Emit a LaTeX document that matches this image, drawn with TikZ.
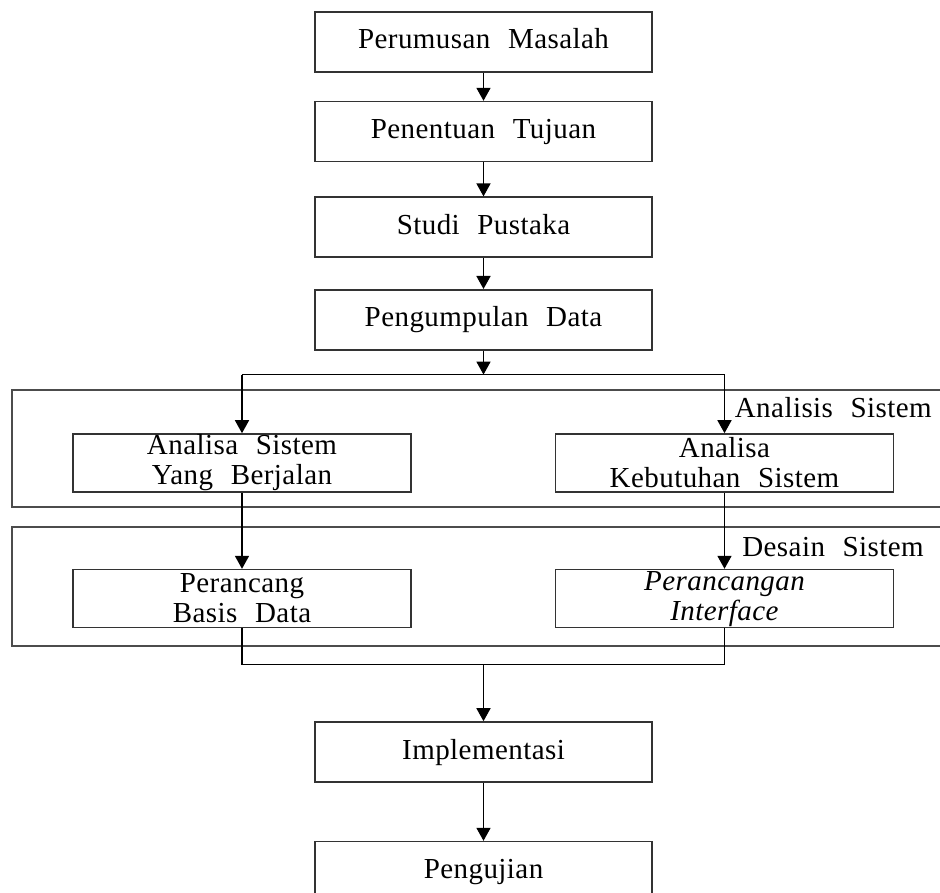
\documentclass[tikz,border=0pt]{standalone}
\usepackage{fontspec}
\setmainfont{Liberation Serif}[LetterSpace=1.5,WordSpace=2.3]
\usetikzlibrary{positioning,arrows.meta}

\tikzset{
  stepbox/.style={draw=black!80, line width=1.6pt, minimum width=337pt,
    minimum height=60pt, inner sep=0pt, text height=20pt, text depth=6pt},
  sidebox/.style={draw=black!80, line width=1.6pt, minimum width=338pt,
    minimum height=58pt, inner sep=0pt, align=center},
  groupline/.style={draw=black!70, line width=1.6pt},
  flow/.style={line width=1.6pt, -{Triangle[width=14pt,length=13pt]}},
  link/.style={line width=1.6pt},
}

\begin{document}
\begin{tikzpicture}[x=1pt, y=-1pt, font=\fontsize{29}{30}\selectfont]
  \useasboundingbox (0,0) rectangle (940,893);
  \clip (0,0) rectangle (940,893);

  % kelompok tahap
  \draw[groupline] (940,390) -| (12,507) -- (940,507);
  \draw[groupline] (940,527) -| (12,646) -- (940,646);
  \node[anchor=base east, inner sep=0pt] (lblanalisis) at (932,417) {Analisis Sistem};
  \node[anchor=base east, inner sep=0pt] (lbldesain) at (924,556) {Desain Sistem};

  % alur utama
  \node[stepbox] (s1) at (483.5,42) {Perumusan Masalah};
  \node[stepbox, below=28pt of s1] (s2) {Penentuan Tujuan};
  \node[stepbox, below=34pt of s2] (s3) {Studi Pustaka};
  \node[stepbox, below=31pt of s3] (s4) {Pengumpulan Data};

  \node[sidebox] (a1) at (242,463) {Analisa Sistem\\Yang Berjalan};
  \node[sidebox] (a2) at (724.5,463) {Analisa\\Kebutuhan Sistem};
  \node[sidebox, below=76pt of a1] (d1) {Perancang\\Basis Data};
  \node[sidebox, below=76pt of a2, font=\fontsize{29}{30}\selectfont\itshape] (d2) {Perancangan\\Interface};

  \node[stepbox] (s5) at (483.5,752) {Implementasi};
  \node[stepbox, below=58pt of s5] (s6) {Pengujian};

  % titik cabang
  \coordinate[below=24pt of s4.south] (split);
  \coordinate (splitL) at (split -| a1);
  \coordinate (splitR) at (split -| a2);
  \coordinate[below=36pt of d1.south] (mergeL);
  \coordinate (mergeR) at (mergeL -| d2);
  \coordinate (merge) at (mergeL -| s5);

  \draw[flow] (s1) -- (s2);
  \draw[flow] (s2) -- (s3);
  \draw[flow] (s3) -- (s4);
  \draw[flow] (s4) -- (split);
  \draw[link] (splitL) -- (splitR);
  \draw[flow] (splitL) -- (a1);
  \draw[flow] (splitR) -- (a2);
  \draw[flow] (a1) -- (d1);
  \draw[flow] (a2) -- (d2);
  \draw[link] (d1.south) |- (mergeR) -- (d2.south);
  \draw[flow] (merge) -- (s5);
  \draw[flow] (s5) -- (s6);
\end{tikzpicture}
\end{document}
